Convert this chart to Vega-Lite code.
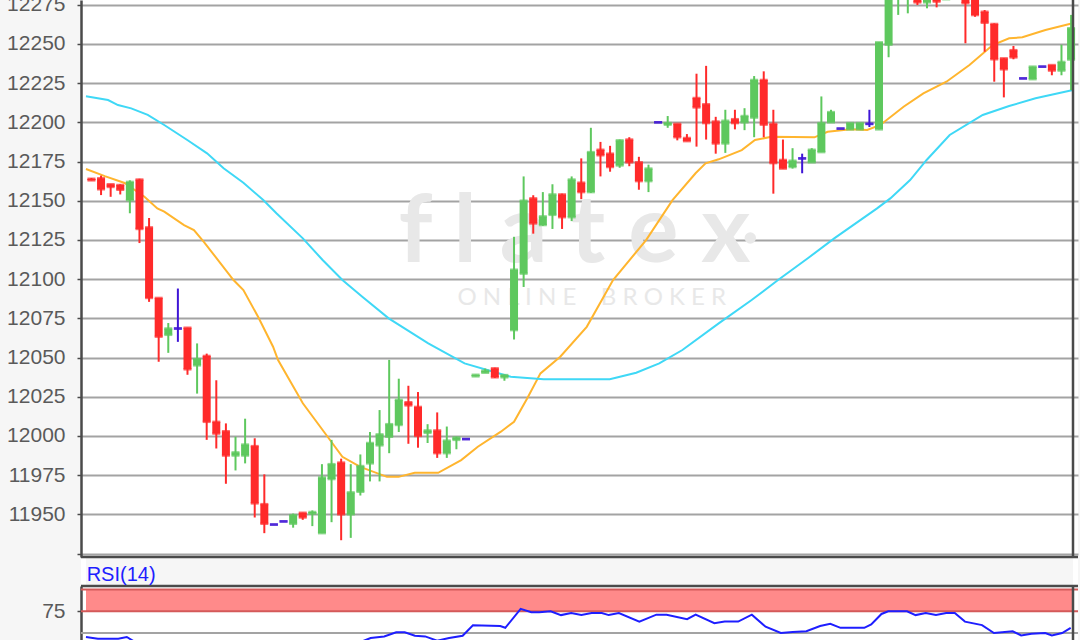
{
  "$schema": "https://vega.github.io/schema/vega-lite/v6.json",
  "width": 997,
  "height": 640,
  "autosize": {"type": "none"},
  "padding": {"left": 81, "top": 0, "right": 2, "bottom": 0},
  "background": "#f6f6f6",
  "config": {"view": {"stroke": null, "fill": "white"}, "font": "Liberation Sans"},
  "datasets": {
    "candles": [
      {"i":0,"open":12164,"high":12164.5,"low":12163,"close":12163},
      {"i":1,"open":12164.3,"high":12166,"low":12153.6,"close":12157.3},
      {"i":2,"open":12160.5,"high":12160.5,"low":12152.5,"close":12158.8},
      {"i":3,"open":12160,"high":12160.5,"low":12154,"close":12157},
      {"i":4,"open":12150.4,"high":12163,"low":12142,"close":12162},
      {"i":5,"open":12163.5,"high":12164,"low":12123,"close":12132},
      {"i":6,"open":12133,"high":12139,"low":12085.5,"close":12088},
      {"i":7,"open":12088,"high":12088,"low":12047.3,"close":12063.3},
      {"i":8,"open":12064.5,"high":12072,"low":12053,"close":12068.5},
      {"i":9,"open":12068.5,"high":12094,"low":12060,"close":12068.5},
      {"i":10,"open":12069,"high":12069,"low":12039,"close":12042.5},
      {"i":11,"open":12045,"high":12059,"low":12027,"close":12049},
      {"i":12,"open":12051,"high":12052.5,"low":11997.5,"close":12009},
      {"i":13,"open":12009,"high":12035.5,"low":11992,"close":12001.5},
      {"i":14,"open":12003,"high":12008,"low":11969.5,"close":11987.5},
      {"i":15,"open":11987.5,"high":11999.5,"low":11978,"close":11989.5},
      {"i":16,"open":11987.5,"high":12011,"low":11982.5,"close":11994.5},
      {"i":17,"open":11993.5,"high":11998.5,"low":11948,"close":11957},
      {"i":18,"open":11956.5,"high":11975.5,"low":11938,"close":11944},
      {"i":19,"open":11943.5,"high":11943.5,"low":11943.5,"close":11943.5},
      {"i":20,"open":11945.5,"high":11945.5,"low":11945.5,"close":11945.5},
      {"i":21,"open":11944,"high":11950.5,"low":11941.5,"close":11949.5},
      {"i":22,"open":11951,"high":11951,"low":11946.5,"close":11948},
      {"i":23,"open":11950.5,"high":11952.5,"low":11942.5,"close":11951.5},
      {"i":24,"open":11938,"high":11982,"low":11938,"close":11973.5},
      {"i":25,"open":11972.5,"high":11997.5,"low":11945,"close":11982},
      {"i":26,"open":11983,"high":11985.5,"low":11933.5,"close":11950},
      {"i":27,"open":11950,"high":11982,"low":11935,"close":11964},
      {"i":28,"open":11964.4,"high":11988.2,"low":11962,"close":11980.8},
      {"i":29,"open":11982.5,"high":12002.5,"low":11971,"close":11995.5},
      {"i":30,"open":11994,"high":12016.5,"low":11971,"close":12001},
      {"i":31,"open":11999.5,"high":12048.5,"low":11989,"close":12007.5},
      {"i":32,"open":12007,"high":12036.5,"low":12002.5,"close":12023},
      {"i":33,"open":12021.5,"high":12032,"low":11995,"close":12019.5},
      {"i":34,"open":12018.5,"high":12028,"low":11992.5,"close":12000},
      {"i":35,"open":12002,"high":12007.5,"low":11995.5,"close":12003.5},
      {"i":36,"open":12003.5,"high":12015,"low":11986,"close":11989},
      {"i":37,"open":11989,"high":12006,"low":11986,"close":11997},
      {"i":38,"open":11997.5,"high":11999.5,"low":11991.5,"close":11999},
      {"i":39,"open":11998,"high":11998,"low":11998,"close":11998},
      {"i":40,"open":12038,"high":12039,"low":12038,"close":12039},
      {"i":41,"open":12040.3,"high":12043,"low":12040.3,"close":12041.6},
      {"i":42,"open":12043.1,"high":12043.5,"low":12037,"close":12037.4},
      {"i":43,"open":12037.4,"high":12039,"low":12035.2,"close":12038.8},
      {"i":44,"open":12067.5,"high":12127,"low":12061.5,"close":12106},
      {"i":45,"open":12103.5,"high":12165.5,"low":12095,"close":12150},
      {"i":46,"open":12151.5,"high":12153.5,"low":12129,"close":12135.5},
      {"i":47,"open":12134.5,"high":12155.5,"low":12134,"close":12140},
      {"i":48,"open":12141,"high":12160.5,"low":12132,"close":12154},
      {"i":49,"open":12154,"high":12154.5,"low":12132,"close":12139.5},
      {"i":50,"open":12139.5,"high":12165.5,"low":12137,"close":12163.5},
      {"i":51,"open":12161.5,"high":12177,"low":12151,"close":12155.5},
      {"i":52,"open":12155.5,"high":12196.5,"low":12155,"close":12181},
      {"i":53,"open":12182.5,"high":12187.5,"low":12165.5,"close":12179},
      {"i":54,"open":12180,"high":12185,"low":12168.5,"close":12171.5},
      {"i":55,"open":12172.5,"high":12189,"low":12171,"close":12188.5},
      {"i":56,"open":12189,"high":12190.5,"low":12172,"close":12174.5},
      {"i":57,"open":12174.5,"high":12178,"low":12157,"close":12162.5},
      {"i":58,"open":12162.5,"high":12173,"low":12155.5,"close":12170.5},
      {"i":59,"open":12200,"high":12200,"low":12200,"close":12200},
      {"i":60,"open":12198.5,"high":12204,"low":12196.5,"close":12199.5},
      {"i":61,"open":12199,"high":12199,"low":12188.5,"close":12190.5},
      {"i":62,"open":12190,"high":12192.5,"low":12188,"close":12188},
      {"i":63,"open":12215.5,"high":12231,"low":12184.5,"close":12209.5},
      {"i":64,"open":12211.5,"high":12236,"low":12189,"close":12199.5},
      {"i":65,"open":12200.5,"high":12203.5,"low":12180,"close":12186.5},
      {"i":66,"open":12186.5,"high":12208,"low":12180.5,"close":12201},
      {"i":67,"open":12202,"high":12208,"low":12195.5,"close":12199.5},
      {"i":68,"open":12200,"high":12209,"low":12195,"close":12204},
      {"i":69,"open":12203,"high":12229.5,"low":12190.5,"close":12227},
      {"i":70,"open":12227,"high":12232.5,"low":12190.5,"close":12198.5},
      {"i":71,"open":12199,"high":12208,"low":12154.5,"close":12174},
      {"i":72,"open":12176,"high":12189,"low":12170.5,"close":12170.5},
      {"i":73,"open":12171.5,"high":12183.5,"low":12170.5,"close":12175.5},
      {"i":74,"open":12177,"high":12180,"low":12167.5,"close":12177},
      {"i":75,"open":12174.5,"high":12183.5,"low":12174.5,"close":12182.5},
      {"i":76,"open":12181,"high":12216.5,"low":12181,"close":12199.5},
      {"i":77,"open":12200,"high":12208,"low":12200,"close":12206.5},
      {"i":78,"open":12196,"high":12196,"low":12196,"close":12196},
      {"i":79,"open":12195.5,"high":12199.5,"low":12195.5,"close":12199.5},
      {"i":80,"open":12195.5,"high":12199.5,"low":12195.5,"close":12199.5},
      {"i":81,"open":12199,"high":12208,"low":12197,"close":12199},
      {"i":82,"open":12195.5,"high":12251,"low":12195.5,"close":12251},
      {"i":83,"open":12249.5,"high":12295,"low":12241.5,"close":12290},
      {"i":84,"open":12285,"high":12298,"low":12268.5,"close":12292},
      {"i":85,"open":12284,"high":12296,"low":12269.5,"close":12290},
      {"i":86,"open":12285,"high":12290,"low":12274.8,"close":12276.5},
      {"i":87,"open":12276.5,"high":12290,"low":12272.7,"close":12284},
      {"i":88,"open":12285,"high":12290,"low":12273.3,"close":12277},
      {"i":89,"open":12278.5,"high":12288,"low":12278,"close":12283},
      {"i":90,"open":12290,"high":12295,"low":12280,"close":12282},
      {"i":91,"open":12282,"high":12290,"low":12250.4,"close":12276},
      {"i":92,"open":12280,"high":12285,"low":12267.3,"close":12268.4},
      {"i":93,"open":12270.5,"high":12271.6,"low":12245,"close":12263.5},
      {"i":94,"open":12262.7,"high":12263.1,"low":12225.9,"close":12240.2},
      {"i":95,"open":12240.8,"high":12241,"low":12215.9,"close":12233.8},
      {"i":96,"open":12246,"high":12248.7,"low":12240.2,"close":12241.4},
      {"i":97,"open":12228,"high":12228,"low":12228,"close":12228},
      {"i":98,"open":12227.5,"high":12235.5,"low":12227.5,"close":12235.5},
      {"i":99,"open":12235.5,"high":12235.5,"low":12235.5,"close":12235.5},
      {"i":100,"open":12236.5,"high":12236.5,"low":12230,"close":12233},
      {"i":101,"open":12233,"high":12249.5,"low":12230,"close":12238.5},
      {"i":102,"open":12240,"high":12268.5,"low":12220.5,"close":12260}
    ],
    "ma": [
      {"s":"fast","i":-0.57,"v":12170.2},{"s":"fast","i":1.39,"v":12165.7},{"s":"fast","i":3.45,"v":12161.3},{"s":"fast","i":5.52,"v":12152.5},{"s":"fast","i":6.86,"v":12145.1},{"s":"fast","i":7.58,"v":12143},{"s":"fast","i":9.64,"v":12134.5},{"s":"fast","i":10.67,"v":12131.3},{"s":"fast","i":11.7,"v":12123.8},{"s":"fast","i":14.79,"v":12099.4},{"s":"fast","i":15.82,"v":12093},{"s":"fast","i":17.35,"v":12076},{"s":"fast","i":18.91,"v":12056.9},{"s":"fast","i":19.43,"v":12048.4},{"s":"fast","i":22.01,"v":12020.8},{"s":"fast","i":24.59,"v":11999.5},{"s":"fast","i":26.13,"v":11986.7},{"s":"fast","i":27.99,"v":11980.3},{"s":"fast","i":30.77,"v":11973.9},{"s":"fast","i":31.98,"v":11973.9},{"s":"fast","i":33.66,"v":11976.5},{"s":"fast","i":36.1,"v":11976.5},{"s":"fast","i":38.5,"v":11984.6},{"s":"fast","i":40.23,"v":11993.1},{"s":"fast","i":42.63,"v":12002.7},{"s":"fast","i":44,"v":12009},{"s":"fast","i":45.38,"v":12024},{"s":"fast","i":46.75,"v":12039.9},{"s":"fast","i":48.81,"v":12050.5},{"s":"fast","i":51.57,"v":12069.6},{"s":"fast","i":54.31,"v":12099.4},{"s":"fast","i":57.75,"v":12124.9},{"s":"fast","i":60.5,"v":12150.4},{"s":"fast","i":62.9,"v":12167.5},{"s":"fast","i":63.94,"v":12173.8},{"s":"fast","i":65.31,"v":12176.4},{"s":"fast","i":67.71,"v":12182.3},{"s":"fast","i":69.09,"v":12188.7},{"s":"fast","i":70.8,"v":12190.8},{"s":"fast","i":75.28,"v":12190.4},{"s":"fast","i":76.65,"v":12194},{"s":"fast","i":79.05,"v":12195.5},{"s":"fast","i":80.77,"v":12195.1},{"s":"fast","i":82.14,"v":12198.3},{"s":"fast","i":84.56,"v":12209.9},{"s":"fast","i":86.62,"v":12218.5},{"s":"fast","i":89.02,"v":12225.9},{"s":"fast","i":91.42,"v":12236.5},{"s":"fast","i":93.84,"v":12249.3},{"s":"fast","i":95.55,"v":12253.6},{"s":"fast","i":96.93,"v":12254.2},{"s":"fast","i":99.33,"v":12258.9},{"s":"fast","i":101.73,"v":12262.5},{"s":"fast","i":102.2,"v":12263.2},
      {"s":"slow","i":-0.57,"v":12216.6},{"s":"slow","i":1.73,"v":12214.2},{"s":"slow","i":2.76,"v":12211},{"s":"slow","i":4.14,"v":12208.9},{"s":"slow","i":5.86,"v":12204.7},{"s":"slow","i":7.58,"v":12198.3},{"s":"slow","i":9.98,"v":12188.7},{"s":"slow","i":12.04,"v":12180.2},{"s":"slow","i":13.76,"v":12170.7},{"s":"slow","i":15.82,"v":12161.5},{"s":"slow","i":17.89,"v":12150.4},{"s":"slow","i":19.26,"v":12142},{"s":"slow","i":22.01,"v":12126},{"s":"slow","i":24.07,"v":12112.2},{"s":"slow","i":26.13,"v":12099.4},{"s":"slow","i":28.2,"v":12088.8},{"s":"slow","i":30.95,"v":12075},{"s":"slow","i":35.07,"v":12059},{"s":"slow","i":38.85,"v":12046.3},{"s":"slow","i":43.66,"v":12037.7},{"s":"slow","i":47.09,"v":12036.1},{"s":"slow","i":53.97,"v":12036.1},{"s":"slow","i":56.72,"v":12040.3},{"s":"slow","i":59.12,"v":12046.3},{"s":"slow","i":61.53,"v":12054.8},{"s":"slow","i":65.31,"v":12071.8},{"s":"slow","i":68.74,"v":12086.7},{"s":"slow","i":71.49,"v":12099.4},{"s":"slow","i":74.59,"v":12113.3},{"s":"slow","i":77.34,"v":12126},{"s":"slow","i":81.8,"v":12145.1},{"s":"slow","i":83.18,"v":12151.5},{"s":"slow","i":85.24,"v":12163.2},{"s":"slow","i":86.96,"v":12176},{"s":"slow","i":89.36,"v":12191.9},{"s":"slow","i":92.8,"v":12204.7},{"s":"slow","i":95.55,"v":12210.4},{"s":"slow","i":98.3,"v":12215.3},{"s":"slow","i":102.2,"v":12220.6}
    ],
    "rsi": [
      {"i":-0.57,"rsi":45.5},{"i":0.67,"rsi":43.5},{"i":2.79,"rsi":43.5},{"i":3.68,"rsi":45.5},{"i":4.75,"rsi":38.2},{"i":6,"rsi":35},{"i":10,"rsi":32},{"i":15,"rsi":30},{"i":20,"rsi":29},{"i":25,"rsi":33},{"i":27.65,"rsi":38.2},{"i":29.07,"rsi":44.2},{"i":30.48,"rsi":46.1},{"i":31.73,"rsi":50.8},{"i":32.62,"rsi":50.8},{"i":33.68,"rsi":46.9},{"i":34.75,"rsi":46.1},{"i":35.99,"rsi":41.3},{"i":37.24,"rsi":44.2},{"i":38.65,"rsi":46.9},{"i":39.72,"rsi":58.8},{"i":42.56,"rsi":58},{"i":43.09,"rsi":56},{"i":44.69,"rsi":77.7},{"i":45.8,"rsi":73.8},{"i":46.63,"rsi":73.8},{"i":47.81,"rsi":75},{"i":48.89,"rsi":70.6},{"i":49.95,"rsi":73},{"i":51.01,"rsi":70.6},{"i":52.08,"rsi":73},{"i":53.14,"rsi":73},{"i":53.86,"rsi":70.6},{"i":54.92,"rsi":73},{"i":57.05,"rsi":63.1},{"i":58.82,"rsi":71.1},{"i":59.89,"rsi":71.1},{"i":62.02,"rsi":65.9},{"i":62.91,"rsi":71.1},{"i":64.86,"rsi":61.2},{"i":65.93,"rsi":63.1},{"i":67.34,"rsi":63.1},{"i":68.76,"rsi":71.1},{"i":70.19,"rsi":57.2},{"i":71.78,"rsi":50},{"i":73.02,"rsi":51.3},{"i":74.44,"rsi":52},{"i":75.87,"rsi":58},{"i":76.93,"rsi":60.7},{"i":77.99,"rsi":56},{"i":80.47,"rsi":56},{"i":81.19,"rsi":59.9},{"i":82.26,"rsi":71.9},{"i":82.96,"rsi":75},{"i":84.92,"rsi":75},{"i":85.81,"rsi":70.6},{"i":86.87,"rsi":73},{"i":87.93,"rsi":70.6},{"i":89,"rsi":73},{"i":89.89,"rsi":73},{"i":90.95,"rsi":63.1},{"i":92.73,"rsi":59.1},{"i":93.97,"rsi":50},{"i":95.92,"rsi":52},{"i":96.8,"rsi":47.3},{"i":97.88,"rsi":49.2},{"i":99.3,"rsi":50},{"i":100,"rsi":47.3},{"i":101.07,"rsi":50},{"i":101.96,"rsi":56}
    ]
  },
  "layer": [
    {
      "layer": [
        {
          "data": {"values": [{}]},
          "mark": {"type": "rect", "color": "#f6f6f6"},
          "encoding": {
            "x": {"datum": -0.567, "type": "quantitative", "scale": {"domain": [-0.567, 102.2], "nice": false, "zero": false}, "axis": null},
            "x2": {"datum": 102.2},
            "y": {"datum": 11922.8, "type": "quantitative", "scale": {"domain": [11922.8, 12278], "range": [557, 0], "nice": false, "zero": false},
              "axis": {"orient": "left", "values": [11925, 11950, 11975, 12000, 12025, 12050, 12075, 12100, 12125, 12150, 12175, 12200, 12225, 12250, 12275], "format": "d", "labelExpr": "datum.value == 11925 ? '' : datum.label", "title": null, "grid": true, "gridColor": "#a3a3a3", "gridWidth": 2, "domainColor": "#4a4a4a", "domainWidth": 2.5, "tickColor": "#4a4a4a", "tickSize": 4, "tickWidth": 1.5, "labelFont": "Liberation Sans", "labelFontSize": 21, "labelColor": "#5a5a5a", "labelPadding": 12, "labelOverlap": false}},
            "y2": {"datum": 11904.3}
          }
        },
        {
          "data": {"values": [{}]},
          "mark": {"type": "text", "text": "f l a t e x", "font": "Lato", "fontSize": 94, "fontWeight": "bold", "color": "#e8e8e8", "align": "center", "baseline": "alphabetic"},
          "encoding": {
            "x": {"datum": 50.3, "type": "quantitative", "scale": {"domain": [-0.567, 102.2], "nice": false, "zero": false}, "axis": null},
            "y": {"datum": 12110.9, "type": "quantitative", "scale": {"domain": [11922.8, 12278], "range": [557, 0], "nice": false, "zero": false},
              "axis": {"orient": "left", "values": [11925, 11950, 11975, 12000, 12025, 12050, 12075, 12100, 12125, 12150, 12175, 12200, 12225, 12250, 12275], "format": "d", "labelExpr": "datum.value == 11925 ? '' : datum.label", "title": null, "grid": true, "gridColor": "#a3a3a3", "gridWidth": 2, "domainColor": "#4a4a4a", "domainWidth": 2.5, "tickColor": "#4a4a4a", "tickSize": 4, "tickWidth": 1.5, "labelFont": "Liberation Sans", "labelFontSize": 21, "labelColor": "#5a5a5a", "labelPadding": 12, "labelOverlap": false}}
          }
        },
        {
          "data": {"values": [{}]},
          "mark": {"type": "point", "shape": "circle", "filled": true, "size": 130, "color": "#e8e8e8", "opacity": 1},
          "encoding": {
            "x": {"datum": 68.6, "type": "quantitative", "scale": {"domain": [-0.567, 102.2], "nice": false, "zero": false}, "axis": null},
            "y": {"datum": 12126.2, "type": "quantitative", "scale": {"domain": [11922.8, 12278], "range": [557, 0], "nice": false, "zero": false},
              "axis": {"orient": "left", "values": [11925, 11950, 11975, 12000, 12025, 12050, 12075, 12100, 12125, 12150, 12175, 12200, 12225, 12250, 12275], "format": "d", "labelExpr": "datum.value == 11925 ? '' : datum.label", "title": null, "grid": true, "gridColor": "#a3a3a3", "gridWidth": 2, "domainColor": "#4a4a4a", "domainWidth": 2.5, "tickColor": "#4a4a4a", "tickSize": 4, "tickWidth": 1.5, "labelFont": "Liberation Sans", "labelFontSize": 21, "labelColor": "#5a5a5a", "labelPadding": 12, "labelOverlap": false}}
          }
        },
        {
          "data": {"values": [{}]},
          "mark": {"type": "text", "text": "O N L I N E\u00a0\u00a0\u00a0 B R O K E R", "font": "Lato", "fontSize": 24, "color": "#e8e8e8", "align": "center", "baseline": "alphabetic"},
          "encoding": {
            "x": {"datum": 52.1, "type": "quantitative", "scale": {"domain": [-0.567, 102.2], "nice": false, "zero": false}, "axis": null},
            "y": {"datum": 12083.5, "type": "quantitative", "scale": {"domain": [11922.8, 12278], "range": [557, 0], "nice": false, "zero": false},
              "axis": {"orient": "left", "values": [11925, 11950, 11975, 12000, 12025, 12050, 12075, 12100, 12125, 12150, 12175, 12200, 12225, 12250, 12275], "format": "d", "labelExpr": "datum.value == 11925 ? '' : datum.label", "title": null, "grid": true, "gridColor": "#a3a3a3", "gridWidth": 2, "domainColor": "#4a4a4a", "domainWidth": 2.5, "tickColor": "#4a4a4a", "tickSize": 4, "tickWidth": 1.5, "labelFont": "Liberation Sans", "labelFontSize": 21, "labelColor": "#5a5a5a", "labelPadding": 12, "labelOverlap": false}}
          }
        },
        {
          "data": {"name": "ma"},
          "mark": {"type": "line", "strokeWidth": 2},
          "encoding": {
            "x": {"field": "i", "type": "quantitative", "scale": {"domain": [-0.567, 102.2], "nice": false, "zero": false}, "axis": null},
            "y": {"field": "v", "type": "quantitative", "scale": {"domain": [11922.8, 12278], "range": [557, 0], "nice": false, "zero": false},
              "axis": {"orient": "left", "values": [11925, 11950, 11975, 12000, 12025, 12050, 12075, 12100, 12125, 12150, 12175, 12200, 12225, 12250, 12275], "format": "d", "labelExpr": "datum.value == 11925 ? '' : datum.label", "title": null, "grid": true, "gridColor": "#a3a3a3", "gridWidth": 2, "domainColor": "#4a4a4a", "domainWidth": 2.5, "tickColor": "#4a4a4a", "tickSize": 4, "tickWidth": 1.5, "labelFont": "Liberation Sans", "labelFontSize": 21, "labelColor": "#5a5a5a", "labelPadding": 12, "labelOverlap": false}},
            "color": {"field": "s", "type": "nominal", "scale": {"domain": ["fast", "slow"], "range": ["#ffb52e", "#3fd8f6"]}, "legend": null}
          }
        },
        {
          "data": {"name": "candles"},
          "mark": {"type": "rule", "strokeWidth": 2},
          "encoding": {
            "x": {"field": "i", "type": "quantitative", "scale": {"domain": [-0.567, 102.2], "nice": false, "zero": false}, "axis": null},
            "y": {"field": "low", "type": "quantitative", "scale": {"domain": [11922.8, 12278], "range": [557, 0], "nice": false, "zero": false},
              "axis": {"orient": "left", "values": [11925, 11950, 11975, 12000, 12025, 12050, 12075, 12100, 12125, 12150, 12175, 12200, 12225, 12250, 12275], "format": "d", "labelExpr": "datum.value == 11925 ? '' : datum.label", "title": null, "grid": true, "gridColor": "#a3a3a3", "gridWidth": 2, "domainColor": "#4a4a4a", "domainWidth": 2.5, "tickColor": "#4a4a4a", "tickSize": 4, "tickWidth": 1.5, "labelFont": "Liberation Sans", "labelFontSize": 21, "labelColor": "#5a5a5a", "labelPadding": 12, "labelOverlap": false}},
            "y2": {"field": "high"},
            "color": {"condition": [{"test": "datum.close > datum.open", "value": "#5ec85e"}, {"test": "datum.close < datum.open", "value": "#ff2a2a"}], "value": "#3f15d6"}
          }
        },
        {
          "data": {"name": "candles"},
          "mark": {"type": "bar", "size": 8},
          "encoding": {
            "x": {"field": "i", "type": "quantitative", "scale": {"domain": [-0.567, 102.2], "nice": false, "zero": false}, "axis": null},
            "y": {"field": "open", "type": "quantitative", "scale": {"domain": [11922.8, 12278], "range": [557, 0], "nice": false, "zero": false},
              "axis": {"orient": "left", "values": [11925, 11950, 11975, 12000, 12025, 12050, 12075, 12100, 12125, 12150, 12175, 12200, 12225, 12250, 12275], "format": "d", "labelExpr": "datum.value == 11925 ? '' : datum.label", "title": null, "grid": true, "gridColor": "#a3a3a3", "gridWidth": 2, "domainColor": "#4a4a4a", "domainWidth": 2.5, "tickColor": "#4a4a4a", "tickSize": 4, "tickWidth": 1.5, "labelFont": "Liberation Sans", "labelFontSize": 21, "labelColor": "#5a5a5a", "labelPadding": 12, "labelOverlap": false}},
            "y2": {"field": "close"},
            "color": {"condition": [{"test": "datum.close > datum.open", "value": "#5ec85e"}, {"test": "datum.close < datum.open", "value": "#ff2a2a"}], "value": "#3f15d6"}
          }
        },
        {
          "data": {"name": "candles"},
          "mark": {"type": "tick", "orient": "horizontal", "size": 8, "thickness": 2.5},
          "encoding": {
            "x": {"field": "i", "type": "quantitative", "scale": {"domain": [-0.567, 102.2], "nice": false, "zero": false}, "axis": null},
            "y": {"field": "close", "type": "quantitative", "scale": {"domain": [11922.8, 12278], "range": [557, 0], "nice": false, "zero": false},
              "axis": {"orient": "left", "values": [11925, 11950, 11975, 12000, 12025, 12050, 12075, 12100, 12125, 12150, 12175, 12200, 12225, 12250, 12275], "format": "d", "labelExpr": "datum.value == 11925 ? '' : datum.label", "title": null, "grid": true, "gridColor": "#a3a3a3", "gridWidth": 2, "domainColor": "#4a4a4a", "domainWidth": 2.5, "tickColor": "#4a4a4a", "tickSize": 4, "tickWidth": 1.5, "labelFont": "Liberation Sans", "labelFontSize": 21, "labelColor": "#5a5a5a", "labelPadding": 12, "labelOverlap": false}},
            "color": {"condition": [{"test": "datum.close > datum.open", "value": "#5ec85e"}, {"test": "datum.close < datum.open", "value": "#ff2a2a"}], "value": "#3f15d6"}
          }
        },
        {
          "data": {"name": "candles"},
          "mark": {"type": "tick", "orient": "horizontal", "size": 8, "thickness": 2.5},
          "encoding": {
            "x": {"field": "i", "type": "quantitative", "scale": {"domain": [-0.567, 102.2], "nice": false, "zero": false}, "axis": null},
            "y": {"field": "open", "type": "quantitative", "scale": {"domain": [11922.8, 12278], "range": [557, 0], "nice": false, "zero": false},
              "axis": {"orient": "left", "values": [11925, 11950, 11975, 12000, 12025, 12050, 12075, 12100, 12125, 12150, 12175, 12200, 12225, 12250, 12275], "format": "d", "labelExpr": "datum.value == 11925 ? '' : datum.label", "title": null, "grid": true, "gridColor": "#a3a3a3", "gridWidth": 2, "domainColor": "#4a4a4a", "domainWidth": 2.5, "tickColor": "#4a4a4a", "tickSize": 4, "tickWidth": 1.5, "labelFont": "Liberation Sans", "labelFontSize": 21, "labelColor": "#5a5a5a", "labelPadding": 12, "labelOverlap": false}},
            "color": {"condition": [{"test": "datum.close > datum.open", "value": "#5ec85e"}, {"test": "datum.close < datum.open", "value": "#ff2a2a"}], "value": "#3f15d6"}
          }
        },
        {
          "data": {"values": [{}]},
          "mark": {"type": "rule", "color": "#4a4a4a", "strokeWidth": 2.5},
          "encoding": {
            "y": {"datum": 11922.8, "type": "quantitative", "scale": {"domain": [11922.8, 12278], "range": [557, 0], "nice": false, "zero": false},
              "axis": {"orient": "left", "values": [11925, 11950, 11975, 12000, 12025, 12050, 12075, 12100, 12125, 12150, 12175, 12200, 12225, 12250, 12275], "format": "d", "labelExpr": "datum.value == 11925 ? '' : datum.label", "title": null, "grid": true, "gridColor": "#a3a3a3", "gridWidth": 2, "domainColor": "#4a4a4a", "domainWidth": 2.5, "tickColor": "#4a4a4a", "tickSize": 4, "tickWidth": 1.5, "labelFont": "Liberation Sans", "labelFontSize": 21, "labelColor": "#5a5a5a", "labelPadding": 12, "labelOverlap": false}}
          }
        },
        {
          "data": {"values": [{}]},
          "mark": {"type": "rule", "color": "#4a4a4a", "strokeWidth": 2.5},
          "encoding": {
            "x": {"datum": 102.2, "type": "quantitative", "scale": {"domain": [-0.567, 102.2], "nice": false, "zero": false}, "axis": null},
            "y": {"datum": 11922.8, "type": "quantitative", "scale": {"domain": [11922.8, 12278], "range": [557, 0], "nice": false, "zero": false},
              "axis": {"orient": "left", "values": [11925, 11950, 11975, 12000, 12025, 12050, 12075, 12100, 12125, 12150, 12175, 12200, 12225, 12250, 12275], "format": "d", "labelExpr": "datum.value == 11925 ? '' : datum.label", "title": null, "grid": true, "gridColor": "#a3a3a3", "gridWidth": 2, "domainColor": "#4a4a4a", "domainWidth": 2.5, "tickColor": "#4a4a4a", "tickSize": 4, "tickWidth": 1.5, "labelFont": "Liberation Sans", "labelFontSize": 21, "labelColor": "#5a5a5a", "labelPadding": 12, "labelOverlap": false}},
            "y2": {"datum": 12300}
          }
        }
      ]
    },
    {
      "layer": [
        {
          "data": {"values": [{}]},
          "mark": {"type": "rect", "color": "#ff8a8a"},
          "encoding": {
            "x": {"datum": -0.567, "type": "quantitative", "scale": {"domain": [-0.567, 102.2], "nice": false, "zero": false}, "axis": null},
            "x2": {"datum": 102.2},
            "y": {"datum": 75, "type": "quantitative", "scale": {"domain": [42, 104], "range": [640, 586], "nice": false, "zero": false},
              "axis": {"orient": "left", "values": [75], "title": null, "grid": false, "domainColor": "#4a4a4a", "domainWidth": 2.5, "tickColor": "#4a4a4a", "tickSize": 4, "tickWidth": 1.5, "labelFont": "Liberation Sans", "labelFontSize": 21, "labelColor": "#5a5a5a", "labelPadding": 12}},
            "y2": {"datum": 100}
          }
        },
        {
          "data": {"values": [{"lvl": 75}, {"lvl": 100}]},
          "mark": {"type": "rule", "color": "#d45a5a", "strokeWidth": 2},
          "encoding": {
            "y": {"field": "lvl", "type": "quantitative", "scale": {"domain": [42, 104], "range": [640, 586], "nice": false, "zero": false},
              "axis": {"orient": "left", "values": [75], "title": null, "grid": false, "domainColor": "#4a4a4a", "domainWidth": 2.5, "tickColor": "#4a4a4a", "tickSize": 4, "tickWidth": 1.5, "labelFont": "Liberation Sans", "labelFontSize": 21, "labelColor": "#5a5a5a", "labelPadding": 12}}
          }
        },
        {
          "data": {"values": [{"lvl": 50}]},
          "mark": {"type": "rule", "color": "#a3a3a3", "strokeWidth": 2},
          "encoding": {
            "y": {"field": "lvl", "type": "quantitative", "scale": {"domain": [42, 104], "range": [640, 586], "nice": false, "zero": false},
              "axis": {"orient": "left", "values": [75], "title": null, "grid": false, "domainColor": "#4a4a4a", "domainWidth": 2.5, "tickColor": "#4a4a4a", "tickSize": 4, "tickWidth": 1.5, "labelFont": "Liberation Sans", "labelFontSize": 21, "labelColor": "#5a5a5a", "labelPadding": 12}}
          }
        },
        {
          "data": {"name": "rsi"},
          "mark": {"type": "line", "color": "#1e1eff", "strokeWidth": 2},
          "encoding": {
            "x": {"field": "i", "type": "quantitative", "scale": {"domain": [-0.567, 102.2], "nice": false, "zero": false}, "axis": null},
            "y": {"field": "rsi", "type": "quantitative", "scale": {"domain": [42, 104], "range": [640, 586], "nice": false, "zero": false},
              "axis": {"orient": "left", "values": [75], "title": null, "grid": false, "domainColor": "#4a4a4a", "domainWidth": 2.5, "tickColor": "#4a4a4a", "tickSize": 4, "tickWidth": 1.5, "labelFont": "Liberation Sans", "labelFontSize": 21, "labelColor": "#5a5a5a", "labelPadding": 12}}
          }
        },
        {
          "data": {"values": [{}]},
          "mark": {"type": "rule", "color": "#4a4a4a", "strokeWidth": 2.5},
          "encoding": {
            "y": {"datum": 104, "type": "quantitative", "scale": {"domain": [42, 104], "range": [640, 586], "nice": false, "zero": false},
              "axis": {"orient": "left", "values": [75], "title": null, "grid": false, "domainColor": "#4a4a4a", "domainWidth": 2.5, "tickColor": "#4a4a4a", "tickSize": 4, "tickWidth": 1.5, "labelFont": "Liberation Sans", "labelFontSize": 21, "labelColor": "#5a5a5a", "labelPadding": 12}}
          }
        },
        {
          "data": {"values": [{}]},
          "mark": {"type": "rule", "color": "#4a4a4a", "strokeWidth": 2.5},
          "encoding": {
            "x": {"datum": 102.2, "type": "quantitative", "scale": {"domain": [-0.567, 102.2], "nice": false, "zero": false}, "axis": null},
            "y": {"datum": 104, "type": "quantitative", "scale": {"domain": [42, 104], "range": [640, 586], "nice": false, "zero": false},
              "axis": {"orient": "left", "values": [75], "title": null, "grid": false, "domainColor": "#4a4a4a", "domainWidth": 2.5, "tickColor": "#4a4a4a", "tickSize": 4, "tickWidth": 1.5, "labelFont": "Liberation Sans", "labelFontSize": 21, "labelColor": "#5a5a5a", "labelPadding": 12}},
            "y2": {"datum": 30}
          }
        },
        {
          "data": {"values": [{}]},
          "mark": {"type": "text", "text": "RSI(14)", "font": "Liberation Sans", "fontSize": 20, "color": "#1e1eff", "align": "left", "baseline": "alphabetic"},
          "encoding": {
            "x": {"datum": -0.5, "type": "quantitative", "scale": {"domain": [-0.567, 102.2], "nice": false, "zero": false}, "axis": null},
            "y": {"datum": 109.7, "type": "quantitative", "scale": {"domain": [42, 104], "range": [640, 586], "nice": false, "zero": false},
              "axis": {"orient": "left", "values": [75], "title": null, "grid": false, "domainColor": "#4a4a4a", "domainWidth": 2.5, "tickColor": "#4a4a4a", "tickSize": 4, "tickWidth": 1.5, "labelFont": "Liberation Sans", "labelFontSize": 21, "labelColor": "#5a5a5a", "labelPadding": 12}}
          }
        }
      ]
    }
  ],
  "resolve": {"scale": {"y": "independent"}, "axis": {"y": "independent"}}
}
